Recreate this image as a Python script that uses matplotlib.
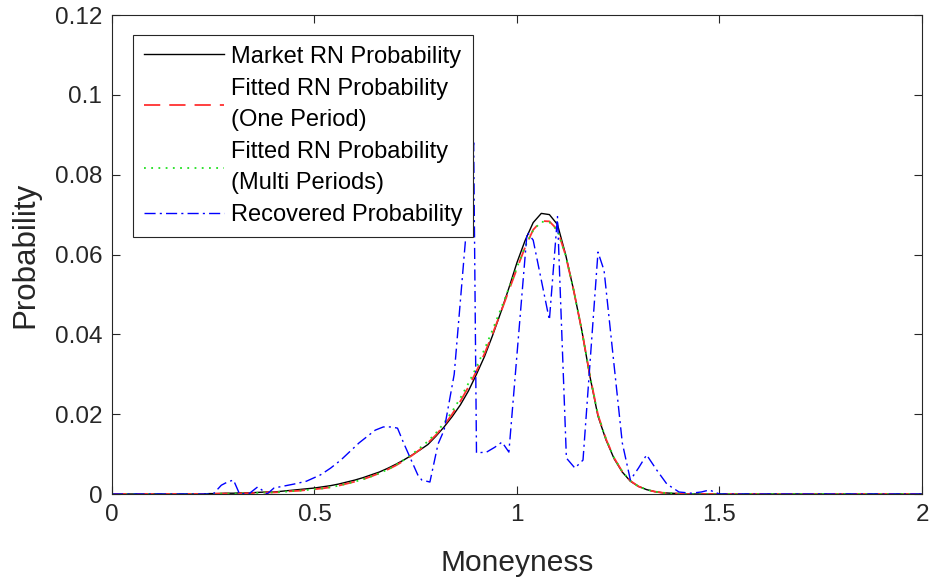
import matplotlib
matplotlib.use("Agg")
import matplotlib.pyplot as plt
import numpy as np

plt.rcParams['font.family'] = ['Liberation Sans', 'DejaVu Sans']

# moneyness grid for the risk-neutral curves
moneyness = np.round(np.arange(0, 2.0001, 0.02), 2)

# values from 0.22 to 1.40, zero elsewhere
market_core = [
    0.0000, 0.0001, 0.0001, 0.0002, 0.0002, 0.0003, 0.0003, 0.0004, 0.0005, 0.0005,
    0.0007, 0.0009, 0.0011, 0.0013, 0.0015, 0.0018, 0.0021, 0.0025, 0.0030, 0.0035,
    0.0041, 0.0048, 0.0055, 0.0064, 0.0074, 0.0085, 0.0097, 0.0110, 0.0124, 0.0145,
    0.0168, 0.0194, 0.0223, 0.0258, 0.0300, 0.0345, 0.0398, 0.0455, 0.0516, 0.0580,
    0.0635, 0.0680, 0.0703, 0.0700, 0.0675, 0.0600, 0.0510, 0.0410, 0.0295, 0.0195,
    0.0135, 0.0088, 0.0055, 0.0032, 0.0019, 0.0011, 0.0006, 0.0003, 0.0002, 0.0001,
]
fitted_one_core = [
    0.0000, 0.0000, 0.0001, 0.0001, 0.0001, 0.0002, 0.0002, 0.0003, 0.0004, 0.0004,
    0.0005, 0.0007, 0.0008, 0.0010, 0.0012, 0.0014, 0.0017, 0.0021, 0.0026, 0.0031,
    0.0037, 0.0044, 0.0052, 0.0061, 0.0071, 0.0083, 0.0096, 0.0111, 0.0128, 0.0148,
    0.0172, 0.0200, 0.0232, 0.0268, 0.0308, 0.0352, 0.0402, 0.0455, 0.0510, 0.0565,
    0.0618, 0.0662, 0.0684, 0.0683, 0.0662, 0.0598, 0.0510, 0.0410, 0.0297, 0.0198,
    0.0137, 0.0090, 0.0056, 0.0033, 0.0019, 0.0011, 0.0006, 0.0003, 0.0002, 0.0001,
]
fitted_multi_core = [
    0.0000, 0.0000, 0.0001, 0.0001, 0.0001, 0.0002, 0.0002, 0.0003, 0.0004, 0.0004,
    0.0005, 0.0007, 0.0008, 0.0010, 0.0012, 0.0014, 0.0017, 0.0021, 0.0026, 0.0031,
    0.0037, 0.0044, 0.0052, 0.0061, 0.0072, 0.0085, 0.0099, 0.0115, 0.0132, 0.0153,
    0.0178, 0.0207, 0.0240, 0.0277, 0.0318, 0.0363, 0.0412, 0.0463, 0.0516, 0.0568,
    0.0620, 0.0661, 0.0682, 0.0681, 0.0660, 0.0598, 0.0510, 0.0410, 0.0297, 0.0198,
    0.0137, 0.0090, 0.0056, 0.0033, 0.0019, 0.0011, 0.0006, 0.0003, 0.0002, 0.0001,
]
market_rn = [0.0] * 11 + market_core + [0.0] * 30
fitted_one = [0.0] * 11 + fitted_one_core + [0.0] * 30
fitted_multi = [0.0] * 11 + fitted_multi_core + [0.0] * 30

# recovered probability
recovered_x = [
    0.00, 0.25, 0.27, 0.285, 0.30, 0.315, 0.34, 0.36, 0.383, 0.40,
    0.45, 0.48, 0.515, 0.54, 0.565, 0.61, 0.65, 0.67, 0.69, 0.705,
    0.72, 0.755, 0.765, 0.785, 0.805, 0.82, 0.845, 0.893, 0.90, 0.925,
    0.945, 0.963, 0.98, 1.025, 1.04, 1.08, 1.10, 1.122, 1.143, 1.163,
    1.20, 1.215, 1.26, 1.28, 1.30, 1.32, 1.345, 1.37, 1.40, 1.43,
    1.455, 1.475, 1.50, 2.00,
]
recovered_y = [
    0.0, 0.0, 0.0022, 0.0030, 0.0035, 0.0, 0.0002, 0.0018, 0.0, 0.0015,
    0.0025, 0.0032, 0.0048, 0.0065, 0.0085, 0.0128, 0.0160, 0.0168, 0.0168, 0.0165,
    0.0128, 0.0048, 0.0035, 0.0030, 0.0125, 0.0160, 0.0300, 0.0880, 0.0103, 0.0105,
    0.0117, 0.0130, 0.0105, 0.0656, 0.0636, 0.0436, 0.0695, 0.0090, 0.0065, 0.0085,
    0.0606, 0.0560, 0.0128, 0.0035, 0.0065, 0.0098, 0.0060, 0.0025, 0.0005, 0.0002,
    0.0005, 0.0010, 0.0, 0.0,
]

fig = plt.figure(figsize=(9.37, 5.82), dpi=100)
ax = fig.add_axes([0.1195, 0.1512, 0.8645, 0.823])

ax.plot(moneyness, market_rn, color='black', lw=1.0, label='Market RN Probability')
ax.plot(moneyness, fitted_one, color='#ff3030', lw=1.3, dashes=(9, 5),
        label='Fitted RN Probability\n(One Period)')
ax.plot(moneyness, fitted_multi, color='#20e020', lw=1.3, dashes=(1, 3),
        label='Fitted RN Probability\n(Multi Periods)')
ax.plot(recovered_x, recovered_y, color='blue', lw=1.0, dashes=(8, 3, 1.5, 3),
        label='Recovered Probability')

ax.set_xlim(0, 2)
ax.set_ylim(0, 0.12)
ax.set_xticks([0, 0.5, 1, 1.5, 2])
ax.set_xticklabels(['0', '0.5', '1', '1.5', '2'])
ax.set_yticks([0, 0.02, 0.04, 0.06, 0.08, 0.1, 0.12])
ax.set_yticklabels(['0', '0.02', '0.04', '0.06', '0.08', '0.1', '0.12'])

dark = '#262626'
for s in ax.spines.values():
    s.set_color(dark)
    s.set_linewidth(0.8)
ax.tick_params(direction='in', length=6, width=0.8, colors=dark, labelsize=17.5,
               top=True, right=True, pad=7)
ax.set_xlabel('Moneyness', fontsize=21.5, color=dark, labelpad=17)
ax.set_ylabel('Probability', fontsize=22.5, color=dark, labelpad=10)

leg = ax.legend(loc='upper left', bbox_to_anchor=(0.026, 0.958), borderaxespad=0,
                fontsize=17.0, fancybox=False, framealpha=1, edgecolor=dark,
                handlelength=3.4, handletextpad=0.3, labelspacing=0.42,
                borderpad=0.45)
leg.get_frame().set_linewidth(0.8)
for t in leg.get_texts():
    t.set_linespacing(1.55)

fig.savefig('out.png', dpi=100)
